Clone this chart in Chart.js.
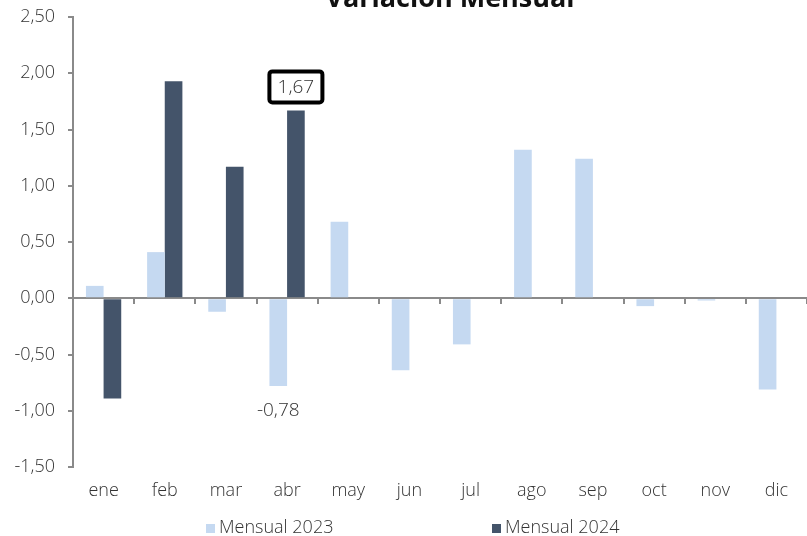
<!DOCTYPE html>
<html><head><meta charset="utf-8">
<script src="https://cdn.jsdelivr.net/npm/chart.js@4/dist/chart.umd.min.js"></script>
<style>html,body{margin:0;padding:0;background:#fff}#wrap{width:807px;height:536px;position:relative}</style>
</head><body><div id="wrap"><canvas id="c" width="807" height="536"></canvas></div>
<script>
const titleText = "Variación Mensual";
const categories = ["ene","feb","mar","abr","may","jun","jul","ago","sep","oct","nov","dic"];
const values2023 = [0.11, 0.41, -0.12, -0.78, 0.68, -0.64, -0.41, 1.32, 1.24, -0.07, -0.02, -0.81];
const values2024 = [-0.89, 1.93, 1.17, 1.67, null, null, null, null, null, null, null, null];
const seriesNames = ["Mensual 2023", "Mensual 2024"];
const yTicks = [-1.5, -1.0, -0.5, 0, 0.5, 1.0, 1.5, 2.0, 2.5];
const labelledPoints = [{ds:1, idx:3, boxed:true}, {ds:0, idx:3, boxed:false}];

const FONT = "'Open Sans', 'Lato', sans-serif";
const TXT = '#333333';
const AX = '#8a8a8a';
const fmt = v => v.toFixed(2).replace('.', ',');

const extras = {
  id: 'extras',
  afterDraw(chart) {
    const ctx = chart.ctx;
    ctx.save();
    // title
    ctx.fillStyle = '#111';
    ctx.font = "bold 27px " + FONT;
    ctx.textAlign = 'center';
    ctx.textBaseline = 'alphabetic';
    ctx.fillText(titleText, 450, 7);
    // data labels
    ctx.font = "300 19px " + FONT;
    labelledPoints.forEach(p => {
      const el = chart.getDatasetMeta(p.ds).data[p.idx];
      const v = chart.data.datasets[p.ds].data[p.idx];
      const t = fmt(v);
      if (p.boxed) {
        const cx = el.x, cy = el.y - 23.5;
        const w = 53, h = 31;
        ctx.lineWidth = 4;
        ctx.strokeStyle = '#000';
        ctx.fillStyle = '#fff';
        ctx.beginPath();
        ctx.roundRect(cx - w/2, cy - h/2, w, h, 3);
        ctx.fill(); ctx.stroke();
        ctx.fillStyle = TXT;
        ctx.textAlign = 'center'; ctx.textBaseline = 'middle';
        ctx.fillText(t, cx, cy + 1);
      } else {
        ctx.fillStyle = TXT;
        ctx.textAlign = 'center'; ctx.textBaseline = 'middle';
        ctx.fillText(t, el.x, el.y + 25);
      }
    });
    // legend
    const lx = [206, 492];
    ctx.font = "300 18px " + FONT;
    ctx.textAlign = 'left'; ctx.textBaseline = 'middle';
    chart.data.datasets.forEach((ds, i) => {
      ctx.fillStyle = ds.backgroundColor;
      ctx.fillRect(lx[i], 524, 9, 9);
      ctx.fillStyle = TXT;
      ctx.fillText(ds.label, lx[i] + 13, 528);
    });
    ctx.restore();
  }
};

new Chart(document.getElementById('c'), {
  type: 'bar',
  data: {
    labels: categories,
    datasets: [
      {label: seriesNames[0], data: values2023, backgroundColor: '#C5D9F1', borderWidth: 0, barPercentage: 1, categoryPercentage: 0.577},
      {label: seriesNames[1], data: values2024, backgroundColor: '#44546A', borderWidth: 0, barPercentage: 1, categoryPercentage: 0.577}
    ]
  },
  options: {
    responsive: false,
    animation: false,
    layout: {padding: {top: 17, left: 0, right: 0, bottom: 0}},
    plugins: {legend: {display: false}, tooltip: {enabled: false}, title: {display: false}},
    scales: {
      x: {
        position: 'bottom',
        grid: {display: false, drawTicks: false},
        border: {display: false},
        ticks: {color: TXT, font: {family: FONT, size: 18, weight: 300}, padding: 13, maxRotation: 0},
        afterFit(s) { s.height = 69; s.paddingLeft = 0; s.paddingRight = 0; }
      },
      x2: {
        type: 'category',
        labels: categories,
        position: {y: 0},
        offset: true,
        grid: {offset: true, drawOnChartArea: false, drawTicks: true, tickLength: 5, color: AX, lineWidth: 2},
        border: {display: true, color: AX, width: 2},
        ticks: {display: false}
      },
      y: {
        min: -1.5, max: 2.5,
        afterBuildTicks(s) { s.ticks = yTicks.map(v => ({value: v})); },
        grid: {drawOnChartArea: false, drawTicks: true, tickLength: 5, color: AX, lineWidth: 2},
        border: {display: true, color: AX, width: 2},
        ticks: {color: TXT, font: {family: FONT, size: 18, weight: 300}, padding: 13, callback: v => fmt(v)},
        afterFit(s) { s.width = 73; s.paddingTop = 0; s.paddingBottom = 0; }
      }
    }
  },
  plugins: [extras]
});
</script></body></html>
